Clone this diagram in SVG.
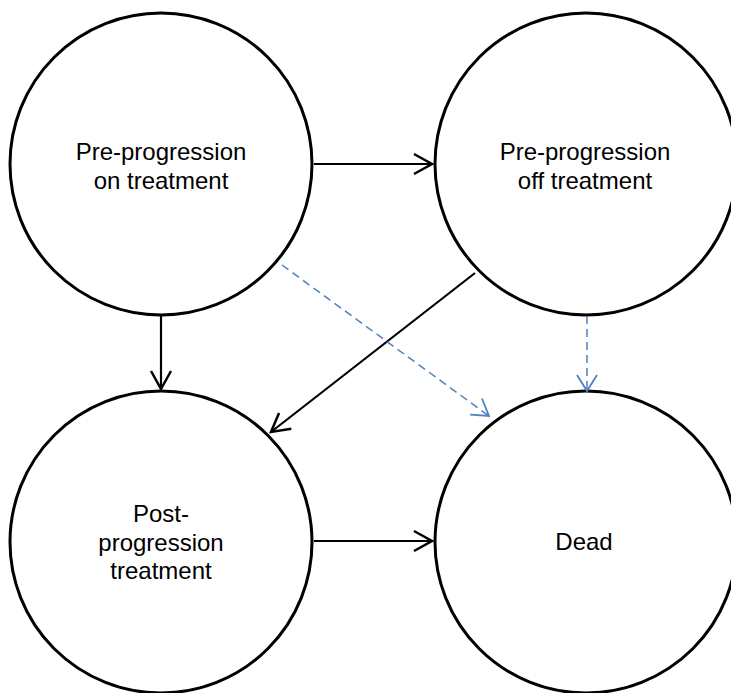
<svg xmlns="http://www.w3.org/2000/svg" width="731" height="693" viewBox="0 0 731 693">
<style>
.node circle{fill:#fff;stroke:#000;stroke-width:3}
.node text{font-family:"Liberation Sans",Arial,sans-serif;font-size:24px;fill:#000;text-anchor:middle}
.solid{stroke:#000;stroke-width:2.2;fill:none}
.dash{stroke:#4F81BD;stroke-width:1.5;stroke-dasharray:8 5;fill:none}
</style>
<defs>
<marker id="ab" markerUnits="userSpaceOnUse" viewBox="-20 -12 22 24" markerWidth="22" markerHeight="24" refX="0" refY="0" orient="auto" overflow="visible">
<path d="M-18,-10 L0,0 L-18,10" fill="none" stroke="#000" stroke-width="2.5"/>
</marker>
<marker id="au" markerUnits="userSpaceOnUse" viewBox="-20 -12 22 24" markerWidth="22" markerHeight="24" refX="0" refY="0" orient="auto" overflow="visible">
<path d="M-16,-10 L0,0 L-16,10" fill="none" stroke="#4F81BD" stroke-width="1.8"/>
</marker>
</defs>
<rect width="731" height="693" fill="#fff"/>
<g id="n1" class="node"><circle cx="161" cy="164" r="151"/><text x="161" y="160">Pre-progression</text><text x="161" y="189">on treatment</text></g>
<g id="n2" class="node"><circle cx="586" cy="164" r="151"/><text x="585" y="160">Pre-progression</text><text x="585" y="189">off treatment</text></g>
<g id="n3" class="node"><circle cx="161" cy="542" r="151"/><text x="161" y="522">Post-</text><text x="161" y="551">progression</text><text x="161" y="579">treatment</text></g>
<g id="n4" class="node"><circle cx="586" cy="542" r="151"/><text x="584" y="550">Dead</text></g>
<g id="edges">
<line class="solid" x1="314" y1="164" x2="432" y2="164" marker-end="url(#ab)"/>
<line class="solid" x1="161" y1="316" x2="161" y2="389" marker-end="url(#ab)"/>
<line class="solid" x1="475" y1="273" x2="271" y2="432" marker-end="url(#ab)"/>
<line class="solid" x1="314" y1="541" x2="432" y2="541" marker-end="url(#ab)"/>
<line class="dash" x1="282" y1="265" x2="489" y2="416" marker-end="url(#au)"/>
<line class="dash" x1="587" y1="316" x2="587" y2="391" marker-end="url(#au)"/>
</g>
</svg>
